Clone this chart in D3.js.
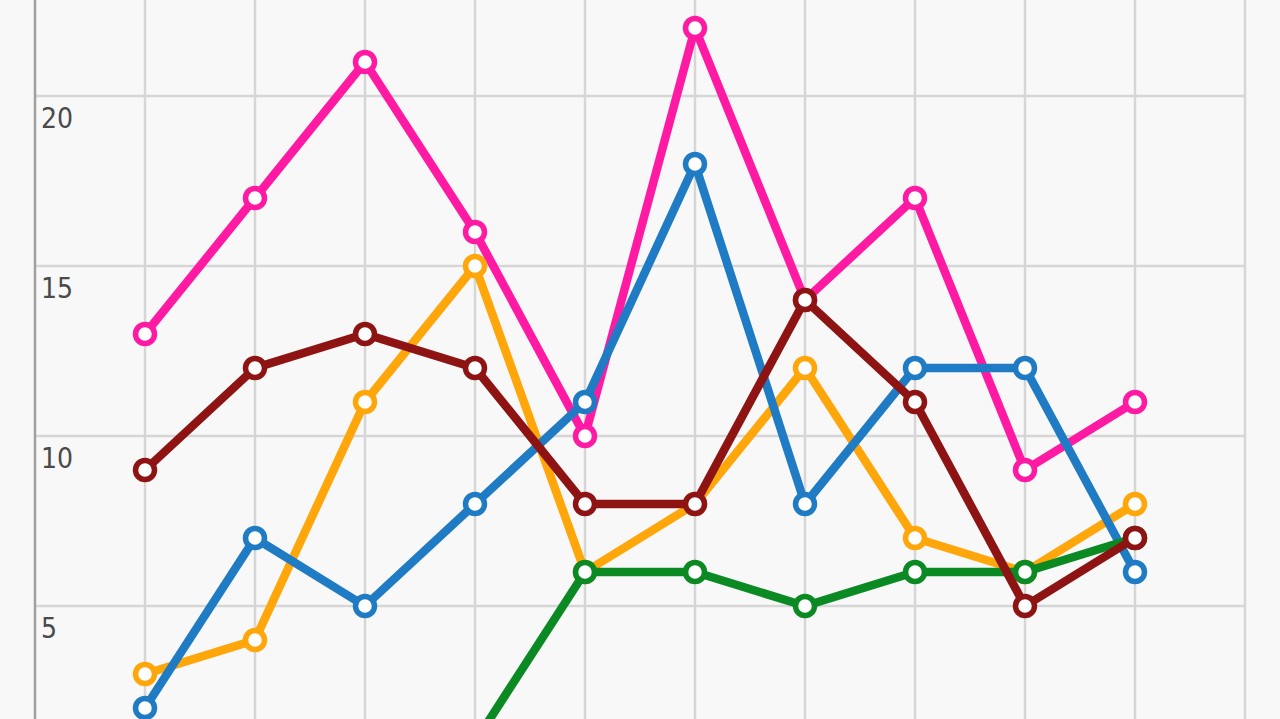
<!DOCTYPE html>
<html><head><meta charset="utf-8">
<script src="https://cdn.jsdelivr.net/npm/d3@7"></script>
<style>html,body{margin:0;padding:0;background:#f8f8f8;overflow:hidden}</style>
</head><body>
<svg id="c" width="1280" height="719"></svg>
<script>
const categories = [1,2,3,4,5,6,7,8,9,10];
const pinkValues   = [13,17,21,16,10,22,14,17,9,11];
const orangeValues = [3,4,11,15,6,8,12,7,6,8];
const blueValues   = [2,7,5,8,11,18,8,12,12,6];
const greenValues  = [0,1,0,1,6,6,5,6,6,7];
const redValues    = [9,12,13,12,8,8,14,11,5,7];
const yTicks = [5,10,15,20];
const xGridTicks = [0,1,2,3,4,5,6,7,8,9,10,11];

const series = [
  {name:"pink", color:"#ff1aa3", values:pinkValues},
  {name:"orange", color:"#ffa60a", values:orangeValues},
  {name:"blue", color:"#1f7cc4", values:blueValues},
  {name:"green", color:"#0b8a24", values:greenValues},
  {name:"red", color:"#8e1414", values:redValues}
];

const svg = d3.select("#c");
const x = d3.scaleLinear().domain([0,11]).range([35,1245]);
const y = d3.scaleLinear().domain([0,20]).range([776,96]);

// gridlines
const grid = svg.append("g");
grid.selectAll("line.v").data(xGridTicks.slice(1)).join("line")
  .attr("x1",d=>x(d)).attr("x2",d=>x(d)).attr("y1",0).attr("y2",719)
  .attr("stroke","#d6d6d6").attr("stroke-width",2.5);
grid.selectAll("line.h").data(yTicks).join("line")
  .attr("x1",x(0)).attr("x2",x(11)).attr("y1",d=>y(d)).attr("y2",d=>y(d))
  .attr("stroke","#d6d6d6").attr("stroke-width",2.5);

// y axis line
svg.append("line").attr("x1",x(0)).attr("x2",x(0)).attr("y1",0).attr("y2",719)
  .attr("stroke","#a0a0a0").attr("stroke-width",2.5);

// tick labels
svg.selectAll("text.tick").data(yTicks).join("text")
  .attr("x",x(0)+6).attr("y",d=>y(d)+32)
  .attr("font-family","'DejaVu Sans Condensed','DejaVu Sans',sans-serif")
  .attr("font-size",28).attr("fill","#4a4a4a")
  .text(d=>d);

const line = d3.line().x((d,i)=>x(categories[i])).y(d=>y(d));
series.forEach(s=>{
  const g = svg.append("g");
  g.append("path").datum(s.values).attr("d",line)
    .attr("fill","none").attr("stroke",s.color).attr("stroke-width",8.5)
    .attr("stroke-linejoin","round");
  g.selectAll("circle").data(s.values).join("circle")
    .attr("cx",(d,i)=>x(categories[i])).attr("cy",d=>y(d)).attr("r",9.5)
    .attr("fill","#fff").attr("stroke",s.color).attr("stroke-width",5.5);
});
</script>
</body></html>
